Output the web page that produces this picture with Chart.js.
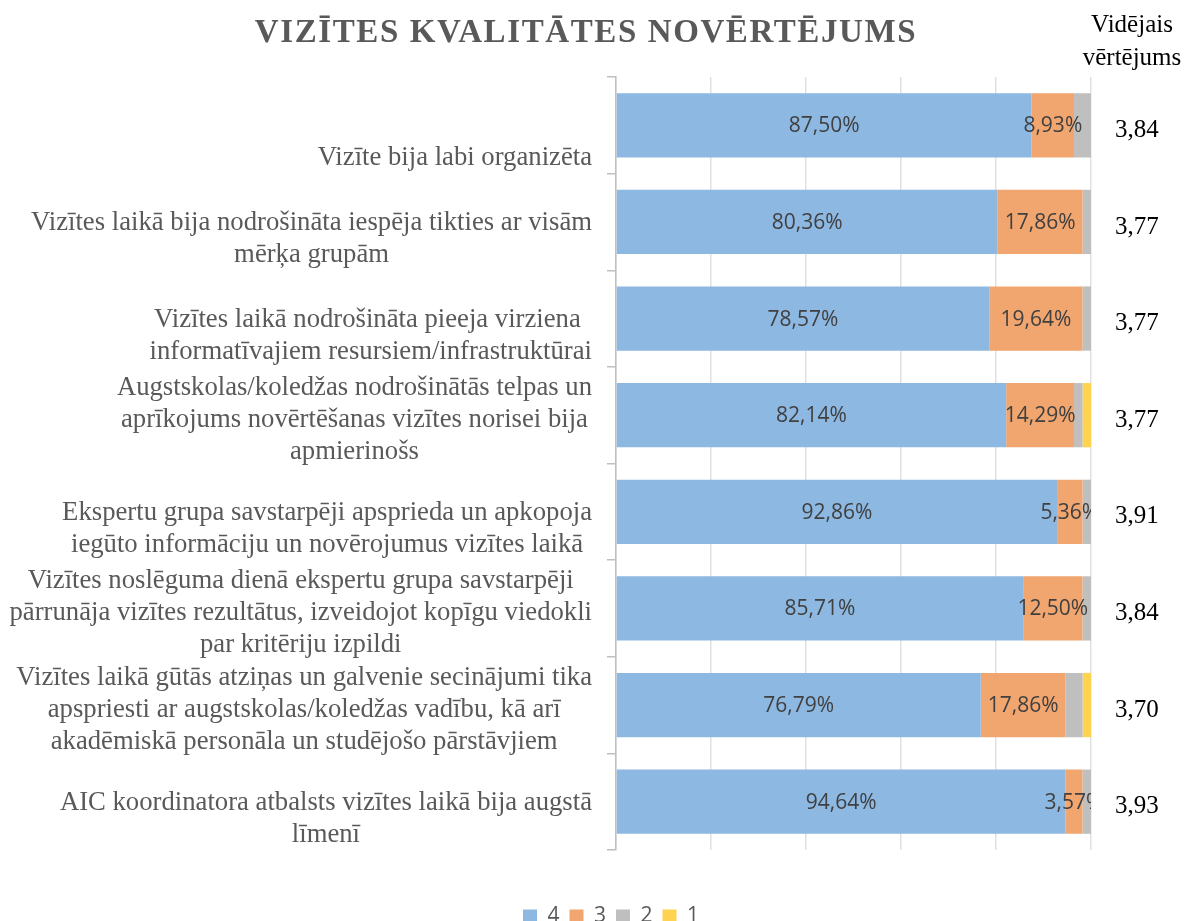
<!DOCTYPE html>
<html>
<head>
<meta charset="utf-8">
<script src="https://cdn.jsdelivr.net/npm/chart.js@4.4.1/dist/chart.umd.min.js"></script>
<style>
  html, body { margin: 0; padding: 0; background: #fff; overflow: hidden; }
  #wrap { position: relative; width: 1184px; height: 937px; }
</style>
</head>
<body>
<div id="wrap"><canvas id="qualityChart"></canvas></div>
<script>
const categories = [
    ["", "Vizīte bija labi organizēta"],
    ["Vizītes laikā bija nodrošināta iespēja tikties ar visām", "mērķa grupām"],
    ["Vizītes laikā nodrošināta pieeja virziena ", "informatīvajiem resursiem/infrastruktūrai"],
    ["Augstskolas/koledžas nodrošinātās telpas un", "aprīkojums novērtēšanas vizītes norisei bija", "apmierinošs"],
    ["Ekspertu grupa savstarpēji apsprieda un apkopoja", "iegūto informāciju un novērojumus vizītes laikā"],
    ["Vizītes noslēguma dienā ekspertu grupa savstarpēji", "pārrunāja vizītes rezultātus, izveidojot kopīgu viedokli", "par kritēriju izpildi"],
    ["Vizītes laikā gūtās atziņas un galvenie secinājumi tika", "apspriesti ar augstskolas/koledžas vadību, kā arī", "akadēmiskā personāla un studējošo pārstāvjiem"],
    ["AIC koordinatora atbalsts vizītes laikā bija augstā", "līmenī"]
];

const series4 = [87.50, 80.36, 78.57, 82.14, 92.86, 85.71, 76.79, 94.64];
const series3 = [8.93, 17.86, 19.64, 14.29, 5.36, 12.50, 17.86, 3.57];
const series2 = [3.57, 1.78, 1.79, 1.78, 1.78, 1.79, 3.57, 1.79];
const series1 = [0, 0, 0, 1.79, 0, 0, 1.78, 0];

const averages = ["3,84", "3,77", "3,77", "3,77", "3,91", "3,84", "3,70", "3,93"];

const seriesNames = ["4", "3", "2", "1"];
const titleText = "VIZĪTES KVALITĀTES NOVĒRTĒJUMS";
const averageHeader = ["Vidējais", "vērtējums"];

const serif = '"Liberation Serif", "Times New Roman", serif';
const sans = '"Open Sans", "Liberation Sans", sans-serif';

// category labels on the left: block right-aligned, lines centred inside the block
const categoryLabels = {
    id: "categoryLabels",
    afterDraw(chart) {
        const ctx = chart.ctx;
        const y = chart.scales.y;
        ctx.save();
        ctx.font = "26.7px " + serif;
        ctx.fillStyle = "#595959";
        ctx.textAlign = "center";
        ctx.textBaseline = "middle";
        categories.forEach((lines, i) => {
            const w = Math.max(...lines.map(l => ctx.measureText(l).width));
            const cx = 592 - w / 2;
            const cy = y.getPixelForTick(i) + (lines.length === 3 ? 5 : 17);
            lines.forEach((line, j) => {
                ctx.fillText(line, cx, cy + (j - (lines.length - 1) / 2) * 32);
            });
        });
        ctx.restore();
    }
};

const valueLabels = {
    id: "valueLabels",
    afterDraw(chart) {
        const ctx = chart.ctx;
        const area = chart.chartArea;
        ctx.save();
        ctx.beginPath();
        ctx.rect(area.left, area.top, area.right - area.left, area.bottom - area.top);
        ctx.clip();
        ctx.font = "21px " + sans;
        ctx.fillStyle = "#404040";
        ctx.textAlign = "center";
        ctx.textBaseline = "middle";
        [0, 1].forEach(di => {
            const meta = chart.getDatasetMeta(di);
            meta.data.forEach((bar, i) => {
                const v = chart.data.datasets[di].data[i];
                if (!v) return;
                const txt = v.toFixed(2).replace(".", ",") + "%";
                ctx.fillText(txt, (bar.x + bar.base) / 2, bar.y + 1);
            });
        });
        ctx.restore();
    }
};

const headings = {
    id: "headings",
    afterDraw(chart) {
        const ctx = chart.ctx;
        ctx.save();
        ctx.textAlign = "center";
        ctx.textBaseline = "middle";
        ctx.fillStyle = "#595959";
        ctx.font = "bold 33px " + serif;
        ctx.letterSpacing = "1.6px";
        ctx.fillText(titleText, 586, 33);
        ctx.letterSpacing = "0px";
        ctx.fillStyle = "#000";
        ctx.font = "25px " + serif;
        averageHeader.forEach((line, j) => {
            ctx.fillText(line, 1132, 25 + j * 33);
        });
        ctx.restore();
    }
};

document.addEventListener("DOMContentLoaded", () => {
    const canvas = document.getElementById("qualityChart");
    if (typeof Chart === "undefined") return;

    Chart.defaults.font.family = sans;

    new Chart(canvas, {
        type: "bar",
        data: {
            labels: categories,
            datasets: [
                { label: seriesNames[0], data: series4, backgroundColor: "#8db8e2" },
                { label: seriesNames[1], data: series3, backgroundColor: "#f1a56f" },
                { label: seriesNames[2], data: series2, backgroundColor: "#bfbfbf" },
                { label: seriesNames[3], data: series1, backgroundColor: "#ffd34f" },
            ],
        },
        options: {
            indexAxis: "y",
            responsive: true,
            maintainAspectRatio: false,
            animation: false,
            categoryPercentage: 0.665,
            barPercentage: 1,
            layout: { padding: { top: 77, left: 38, right: 0, bottom: 0 } },
            scales: {
                x: {
                    stacked: true,
                    min: 0,
                    max: 100,
                    z: 1,
                    ticks: { display: false, stepSize: 20 },
                    grid: { color: "rgba(0,0,0,0.12)", lineWidth: 1.5, drawTicks: false },
                    border: { display: false },
                    afterFit: s => { s.height = 46; },
                },
                y: {
                    stacked: true,
                    offset: true,
                    ticks: { display: false },
                    grid: {
                        offset: true,
                        drawOnChartArea: false,
                        drawTicks: true,
                        tickLength: 9,
                        color: "#bfbfbf",
                        lineWidth: 1.5,
                    },
                    border: { color: "#bfbfbf", width: 1.5 },
                    afterFit: s => { s.width = 578; },
                },
                avg: {
                    type: "category",
                    position: "right",
                    labels: averages,
                    offset: true,
                    grid: { display: false, drawTicks: false },
                    border: { display: false },
                    ticks: {
                        color: "#000",
                        font: { family: serif, size: 25 },
                        padding: 24,
                        labelOffset: 5,
                    },
                    afterFit: s => { s.width = 93; },
                },
            },
            plugins: {
                title: { display: false },
                tooltip: { enabled: false },
                legend: {
                    position: "bottom",
                    labels: {
                        boxWidth: 14,
                        boxHeight: 14,
                        padding: 10,
                        color: "#595959",
                        font: { family: sans, size: 21 },
                    },
                },
            },
        },
        plugins: [categoryLabels, valueLabels, headings],
    });
});
</script>
</body>
</html>
